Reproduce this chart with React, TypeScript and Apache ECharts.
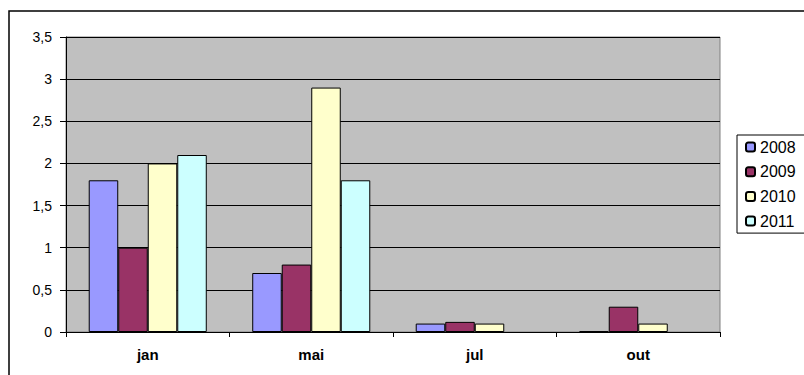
import React, { useEffect, useRef } from "react";
import * as echarts from "echarts";

const categories = ["jan", "mai", "jul", "out"];
const seriesNames = ["2008", "2009", "2010", "2011"];
const values2008 = [1.8, 0.7, 0.1, 0.01];
const values2009 = [1.0, 0.8, 0.12, 0.3];
const values2010 = [2.0, 2.9, 0.1, 0.1];
const values2011: (number | null)[] = [2.1, 1.8, null, null];
const colors = ["#9999FF", "#993366", "#FFFFCC", "#CCFFFF"];

const FONT = "'Liberation Sans', Arial, sans-serif";

export default function App() {
  const ref = useRef<HTMLDivElement>(null);
  useEffect(() => {
    if (!ref.current) return;
    const chart = echarts.init(ref.current, undefined, { renderer: "svg" });
    const allValues = [values2008, values2009, values2010, values2011];
    chart.setOption({
      animation: false,
      backgroundColor: "#ffffff",
      textStyle: { fontFamily: FONT },
      graphic: [
        {
          type: "rect",
          shape: { x: 9, y: 11, width: 900, height: 500 },
          style: { fill: "none", stroke: "#000000", lineWidth: 1.5 },
          silent: true,
          z: -10,
        },
      ],
      grid: {
        left: 66,
        top: 37,
        width: 654,
        height: 295,
        show: true,
        backgroundColor: "#C0C0C0",
        borderColor: "#808080",
        borderWidth: 1,
      },
      legend: {
        orient: "vertical",
        left: 737,
        top: 135,
        itemWidth: 9,
        itemHeight: 9,
        itemGap: 8.7,
        padding: [4, 30, 4, 8],
        borderColor: "#000000",
        borderWidth: 1,
        backgroundColor: "#ffffff",
        textStyle: { fontSize: 16, color: "#000000", fontFamily: FONT },
        data: seriesNames,
      },
      xAxis: {
        type: "category",
        data: categories,
        axisLine: { show: true, lineStyle: { color: "#000000", width: 1 } },
        axisTick: { show: true, length: 5, lineStyle: { color: "#000000" } },
        axisLabel: {
          margin: 15,
          fontSize: 15,
          fontWeight: "bold",
          color: "#000000",
          fontFamily: FONT,
        },
        splitLine: { show: false },
      },
      yAxis: {
        type: "value",
        min: 0,
        max: 3.5,
        interval: 0.5,
        axisLine: { show: true, lineStyle: { color: "#000000", width: 1 } },
        axisTick: { show: true, length: 6, lineStyle: { color: "#000000" } },
        axisLabel: {
          margin: 14,
          fontSize: 14,
          color: "#000000",
          fontFamily: FONT,
          formatter: (v: number) => String(v).replace(".", ","),
        },
        splitLine: { show: true, lineStyle: { color: "#000000", width: 1 } },
      },
      series: seriesNames.map((name, i) => ({
        name,
        type: "bar",
        data: allValues[i],
        barGap: "0%",
        barCategoryGap: "27.8%",
        itemStyle: { color: colors[i], borderColor: "#000000", borderWidth: 1 },
      })),
    });
    return () => chart.dispose();
  }, []);
  return (
    <div
      ref={ref}
      style={{ position: "absolute", left: 0, top: 0, width: 804, height: 375 }}
    />
  );
}
